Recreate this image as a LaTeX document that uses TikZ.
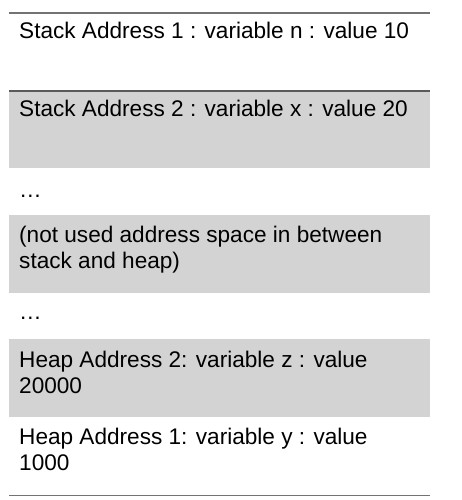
\documentclass[tikz,border=0pt]{standalone}
\usepackage{fontspec}
\setmainfont{Liberation Sans}
\definecolor{cellgray}{HTML}{D3D3D3}
\definecolor{rulegray}{HTML}{5A5A5A}
\begin{document}
\begin{tikzpicture}[x=1pt,y=-1pt,
  cell/.style={draw=none,inner sep=0pt,minimum width=421pt,anchor=north west},
  shaded/.style={cell,fill=cellgray},
  label/.style={anchor=base west,inner sep=0pt,align=left,
    font=\fontsize{22.6}{26}\selectfont},
  rule/.style={draw=rulegray,line width=1.4pt}]
\useasboundingbox (0,0) rectangle (462,500);

% memory cells, top to bottom
\node[cell,minimum height=78pt]   (s1) at (9,13)  {};
\node[shaded,minimum height=77pt] (s2) at (9,91)  {};
\node[shaded,minimum height=78pt] (gap) at (9,215) {};
\node[shaded,minimum height=78pt] (h2) at (9,339) {};
\node[cell,minimum height=78pt]   (h1) at (9,417) {};

% separating rules
\draw[rule,draw=gray!90!black,line width=1.2pt] (s1.north west) -- (s1.north east);
\draw[rule,line width=1.6pt] (s2.north west) -- (s2.north east);
\draw[rule,draw=gray!90!black,line width=1.2pt] (h1.south west) -- (h1.south east);

% cell contents (two-line labels are placed by their last baseline)
\node[label] (t1) at (19,39)  {Stack Address 1 : variable n : value 10};
\node[label] (t2) at (19,117) {Stack Address 2 : variable x : value 20};
\node[label] (d1) at (19,197) {…};
\node[label] (t3) at (19,268) {(not used address space in between\\stack and heap)};
\node[label] (d2) at (19,319) {…};
\node[label] (t4) at (19,393) {Heap Address 2: variable z : value\\20000};
\node[label] (t5) at (19,470) {Heap Address 1: variable y : value\\1000};
\end{tikzpicture}
\end{document}
